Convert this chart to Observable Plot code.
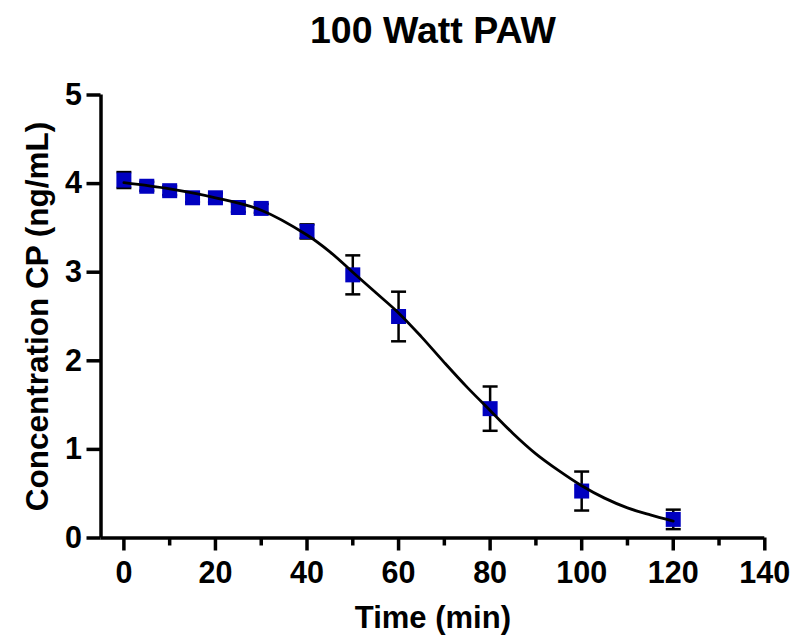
<!DOCTYPE html>
<html>
<head>
<meta charset="utf-8">
<script src="https://cdn.jsdelivr.net/npm/d3@7"></script>
<script src="https://cdn.jsdelivr.net/npm/@observablehq/plot@0.6"></script>
<style>body{margin:0;background:#fff}</style>
</head>
<body>
<div id="chart"></div>
<script>
// Measured points (mean ± error)
const times = [0, 5, 10, 15, 20, 25, 30, 40, 50, 60, 80, 100, 120];
const conc  = [4.04, 3.97, 3.92, 3.84, 3.84, 3.73, 3.72, 3.46, 2.97, 2.50, 1.46, 0.53, 0.21];
const errs  = [0.09, 0.05, 0.05, 0.05, 0.05, 0.05, 0.05, 0.08, 0.22, 0.28, 0.25, 0.22, 0.11];

// Fitted curve
const curveT = [0, 10, 20, 30, 40, 45, 50, 55, 60, 65, 70, 75, 80, 85, 90, 95, 100, 105, 110, 115, 120];
const curveC = [4.01, 3.94, 3.84, 3.70, 3.42, 3.23, 3.00, 2.77, 2.54, 2.27, 1.98, 1.70, 1.44, 1.18, 0.95, 0.76, 0.59, 0.45, 0.34, 0.26, 0.19];

// Ticks and labels
const majorX = [0, 20, 40, 60, 80, 100, 120, 140];
const minorX = [10, 30, 50, 70, 90, 110, 130];
const majorY = [0, 1, 2, 3, 4, 5];
const titleText = "100 Watt PAW";
const xLabel = "Time (min)";
const yLabel = "Concentration CP (ng/mL)";

const points = times.map((t, i) => ({t, c: conc[i], lo: conc[i] - errs[i], hi: conc[i] + errs[i]}));
const fit = curveT.map((t, i) => ({t, c: curveC[i]}));

const hbar = {draw(ctx, size) { const r = Math.sqrt(size / Math.PI); ctx.moveTo(-r, 0); ctx.lineTo(r, 0); }};
const square = {draw(ctx, size) { const r = Math.sqrt(size / Math.PI); ctx.rect(-r, -r, 2 * r, 2 * r); }};

const font = "'Liberation Sans', Arial, Helvetica, sans-serif";

const chart = Plot.plot({
  width: 797,
  height: 638,
  marginLeft: 100.5,
  marginRight: 32.7,
  marginTop: 94.5,
  marginBottom: 100.5,
  style: {fontFamily: font, fontWeight: "bold", background: "white", color: "black"},
  x: {domain: [-5, 140]},
  y: {domain: [0, 5]},
  marks: [
    Plot.ruleX(points, {x: "t", y1: "lo", y2: "hi", stroke: "black", strokeWidth: 2.5}),
    Plot.dot(points, {x: "t", y: "hi", symbol: hbar, r: 7.5, stroke: "black", strokeWidth: 2.5}),
    Plot.dot(points, {x: "t", y: "lo", symbol: hbar, r: 7.5, stroke: "black", strokeWidth: 2.5}),
    Plot.dot(points, {x: "t", y: "c", symbol: square, r: 7.5, fill: "#0000c0", stroke: null}),
    Plot.line(fit, {x: "t", y: "c", curve: "catmull-rom", stroke: "black", strokeWidth: 2.8}),
    Plot.ruleY([0], {strokeWidth: 3.5}),
    Plot.ruleX([-5], {strokeWidth: 3.5}),
    Plot.axisX(majorX, {tickSize: 13, tickPadding: 10, fontSize: 30.5, fontWeight: "bold", strokeWidth: 3.5, label: null, tickFormat: d => String(d)}),
    Plot.axisX(minorX, {tickSize: 8, text: null, strokeWidth: 3.5, label: null}),
    Plot.axisY(majorY, {tickSize: 14, tickPadding: 5, fontSize: 30.5, fontWeight: "bold", strokeWidth: 3.5, label: null, tickFormat: d => String(d)}),
    Plot.text([titleText], {text: d => d, frameAnchor: "top", dy: -64, fontSize: 37.5, fontWeight: "bold", lineAnchor: "middle", textAnchor: "middle"}),
    Plot.text([xLabel], {text: d => d, frameAnchor: "bottom", dy: 80.5, fontSize: 31, fontWeight: "bold", lineAnchor: "middle", textAnchor: "middle"}),
    Plot.text([yLabel], {text: d => d, frameAnchor: "left", dx: -63, rotate: -90, fontSize: 31.5, fontWeight: "bold", lineAnchor: "middle", textAnchor: "middle"})
  ]
});
document.getElementById("chart").appendChild(chart);
</script>
</body>
</html>
